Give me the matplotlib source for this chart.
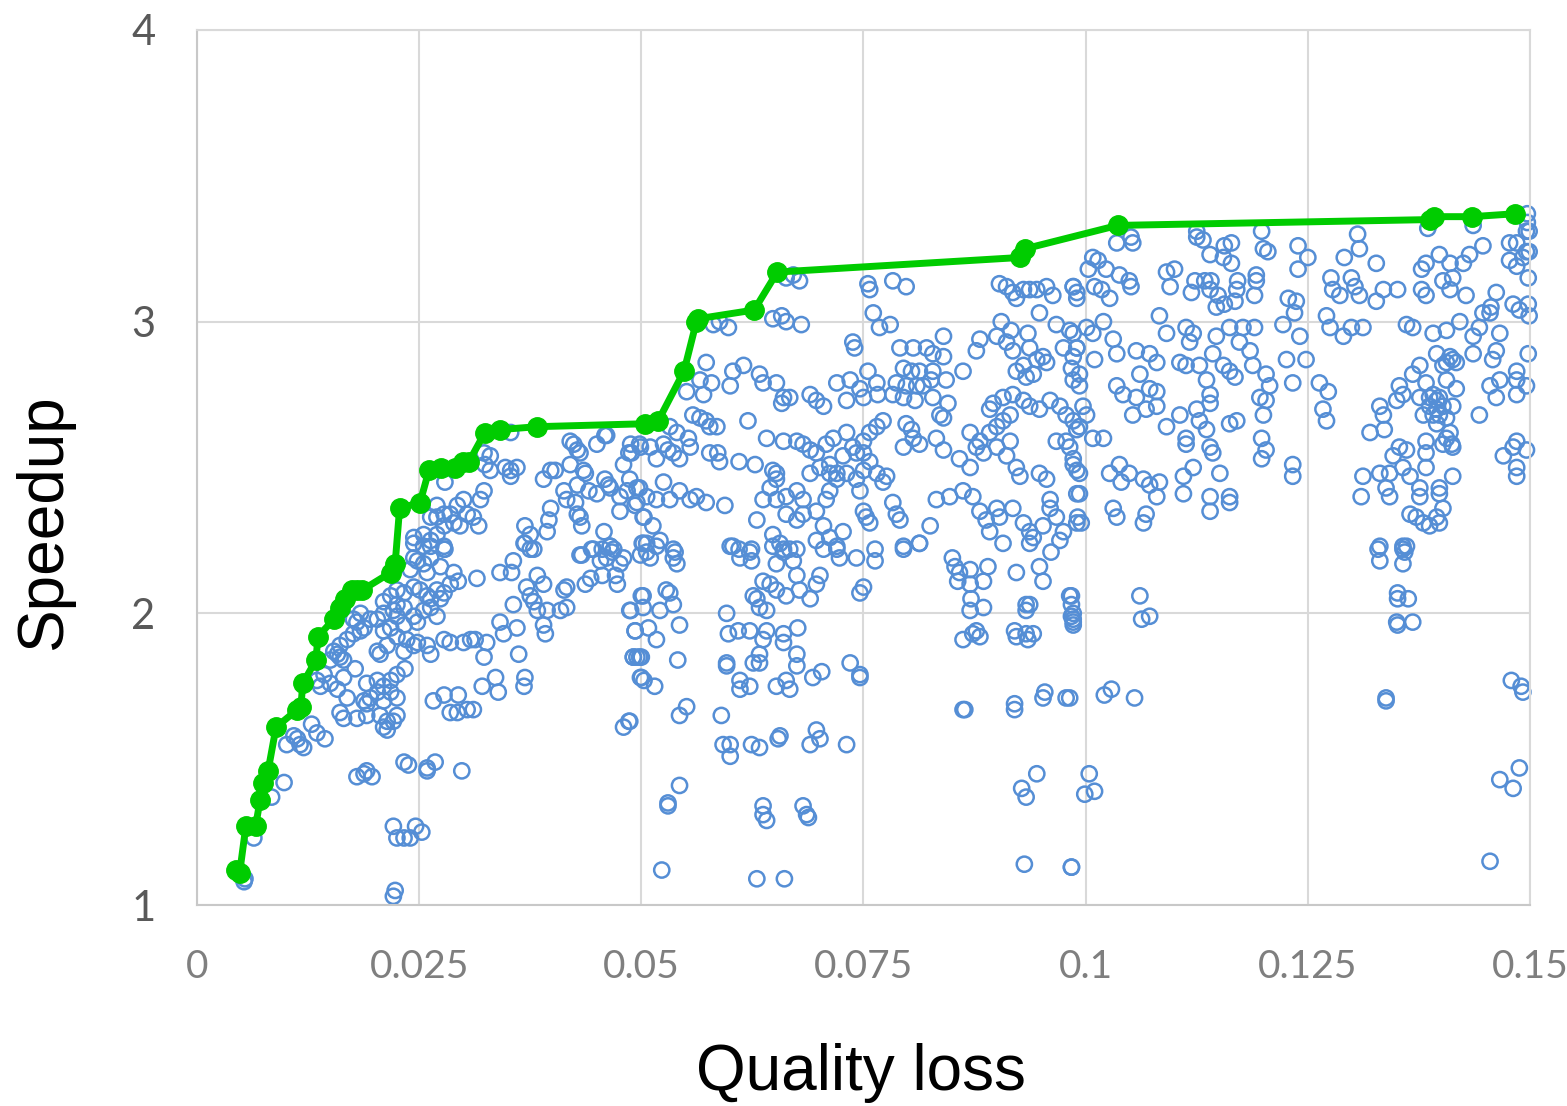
import numpy as np
import matplotlib
matplotlib.use("Agg")
import matplotlib.pyplot as plt

# Pareto frontier (green)
front_loss = [0.0044, 0.0048, 0.0055, 0.0066, 0.0071, 0.0074, 0.0080, 0.0089, 0.0113, 0.0117,
              0.0119, 0.0134, 0.0136, 0.0154, 0.0161, 0.0167, 0.0174, 0.0180, 0.0186, 0.0218,
              0.0223, 0.0228, 0.0251, 0.0261, 0.0275, 0.0290, 0.0299, 0.0306, 0.0324, 0.0341,
              0.0383, 0.0504, 0.0519, 0.0548, 0.0562, 0.0564, 0.0627, 0.0653, 0.0926, 0.0932,
              0.1036, 0.1388, 0.1392, 0.1435, 0.1483]
front_speedup = [1.12, 1.11, 1.27, 1.27, 1.36, 1.42, 1.46, 1.61, 1.67, 1.68,
                 1.76, 1.84, 1.92, 1.98, 2.02, 2.05, 2.08, 2.08, 2.08, 2.14,
                 2.17, 2.36, 2.38, 2.49, 2.50, 2.50, 2.52, 2.52, 2.62, 2.63,
                 2.64, 2.65, 2.66, 2.83, 3.00, 3.01, 3.04, 3.17, 3.22, 3.25,
                 3.33, 3.35, 3.36, 3.36, 3.37]

# all configurations, (quality loss, speedup), grouped by area of the plot
left_low = [
    (0.0244, 2.24), (0.0263, 2.23), (0.0278, 2.23), (0.0279, 2.22), (0.0263, 2.19), (0.0248, 2.18),
    (0.0255, 2.17), (0.0274, 2.16), (0.0240, 2.15), (0.0259, 2.14), (0.0289, 2.14), (0.0294, 2.11),
    (0.0315, 2.12), (0.0341, 2.14), (0.0354, 2.14), (0.0356, 2.18), (0.0369, 2.24), (0.0375, 2.22),
    (0.0433, 2.20), (0.0446, 2.22), (0.0456, 2.22), (0.0465, 2.23), (0.0467, 2.21), (0.0480, 2.19),
    (0.0476, 2.17), (0.0454, 2.18), (0.0461, 2.19), (0.0499, 2.20), (0.0443, 2.12), (0.0437, 2.10),
    (0.0456, 2.13), (0.0471, 2.13), (0.0473, 2.10), (0.0225, 2.08), (0.0233, 2.07), (0.0218, 2.06),
    (0.0210, 2.04), (0.0225, 2.03), (0.0233, 2.02), (0.0221, 2.01), (0.0210, 2.00), (0.0203, 1.98),
    (0.0225, 1.99), (0.0244, 2.09), (0.0251, 2.08), (0.0259, 2.06), (0.0263, 2.05), (0.0270, 2.08),
    (0.0278, 2.07), (0.0274, 2.05), (0.0285, 2.10), (0.0263, 2.02), (0.0270, 1.99), (0.0255, 2.01),
    (0.0244, 1.99), (0.0248, 1.97), (0.0233, 1.96), (0.0218, 1.95), (0.0210, 1.94), (0.0225, 1.92),
    (0.0236, 1.91), (0.0248, 1.90), (0.0259, 1.89), (0.0263, 1.86), (0.0244, 1.89), (0.0233, 1.87),
    (0.0214, 1.89), (0.0206, 1.86), (0.0203, 1.87), (0.0195, 1.98), (0.0188, 1.95), (0.0184, 1.94),
    (0.0176, 1.93), (0.0169, 1.91), (0.0161, 1.89), (0.0158, 1.86), (0.0150, 1.84), (0.0161, 1.85),
    (0.0165, 1.84), (0.0154, 1.87), (0.0176, 1.98), (0.0180, 1.97), (0.0184, 2.00), (0.0278, 1.91),
    (0.0285, 1.90), (0.0300, 1.90), (0.0308, 1.91), (0.0313, 1.91), (0.0326, 1.90), (0.0323, 1.85),
    (0.0341, 1.97), (0.0345, 1.93), (0.0360, 1.95), (0.0362, 1.86), (0.0356, 2.03), (0.0371, 2.09),
    (0.0375, 2.06), (0.0383, 2.13), (0.0390, 2.10), (0.0379, 2.04), (0.0383, 2.01), (0.0394, 2.01),
    (0.0390, 1.96), (0.0392, 1.93), (0.0413, 2.08), (0.0416, 2.09), (0.0416, 2.02), (0.0409, 2.01),
    (0.0488, 2.01), (0.0493, 1.94), (0.0491, 1.85), (0.0495, 1.85), (0.0500, 1.85), (0.0499, 1.78),
    (0.0503, 1.77), (0.0500, 2.06), (0.0143, 1.79), (0.0135, 1.77), (0.0139, 1.75), (0.0150, 1.76),
    (0.0158, 1.74), (0.0169, 1.71), (0.0165, 1.78), (0.0178, 1.81), (0.0191, 1.76), (0.0203, 1.77),
    (0.0210, 1.75), (0.0218, 1.77), (0.0225, 1.79), (0.0234, 1.81), (0.0188, 1.70), (0.0191, 1.69),
    (0.0195, 1.71), (0.0203, 1.73), (0.0210, 1.70), (0.0218, 1.73), (0.0225, 1.71), (0.0161, 1.66),
    (0.0165, 1.64), (0.0180, 1.64), (0.0191, 1.65), (0.0206, 1.65), (0.0214, 1.63), (0.0221, 1.63),
    (0.0225, 1.65), (0.0210, 1.61), (0.0214, 1.60), (0.0129, 1.62), (0.0135, 1.59), (0.0144, 1.57),
    (0.0109, 1.58), (0.0113, 1.57), (0.0101, 1.55), (0.0116, 1.55), (0.0120, 1.54), (0.0098, 1.42),
    (0.0084, 1.37), (0.0064, 1.23), (0.0054, 1.09), (0.0053, 1.08), (0.0311, 1.67), (0.0304, 1.67),
    (0.0293, 1.66), (0.0285, 1.66), (0.0266, 1.70), (0.0278, 1.72), (0.0294, 1.72), (0.0321, 1.75),
    (0.0336, 1.78), (0.0339, 1.73), (0.0369, 1.78), (0.0368, 1.75), (0.0486, 1.63), (0.0480, 1.61),
    (0.0180, 1.44), (0.0188, 1.45), (0.0191, 1.46), (0.0197, 1.44), (0.0233, 1.49), (0.0238, 1.48),
    (0.0259, 1.47), (0.0259, 1.46), (0.0268, 1.49), (0.0298, 1.46), (0.0221, 1.27), (0.0225, 1.23),
    (0.0233, 1.23), (0.0240, 1.23), (0.0246, 1.27), (0.0253, 1.25), (0.0223, 1.05), (0.0221, 1.03),
]

left_high = [
    (0.0353, 2.62), (0.0420, 2.59), (0.0424, 2.58), (0.0428, 2.56), (0.0431, 2.55), (0.0420, 2.51),
    (0.0435, 2.49), (0.0437, 2.48), (0.0450, 2.58), (0.0459, 2.61), (0.0461, 2.61), (0.0488, 2.58),
    (0.0486, 2.55), (0.0499, 2.57), (0.0480, 2.51), (0.0323, 2.55), (0.0330, 2.54), (0.0324, 2.51),
    (0.0330, 2.49), (0.0347, 2.50), (0.0353, 2.49), (0.0360, 2.50), (0.0353, 2.47), (0.0390, 2.46),
    (0.0398, 2.49), (0.0403, 2.49), (0.0413, 2.42), (0.0416, 2.39), (0.0428, 2.44), (0.0426, 2.38),
    (0.0441, 2.42), (0.0450, 2.41), (0.0459, 2.46), (0.0463, 2.44), (0.0465, 2.43), (0.0476, 2.40),
    (0.0484, 2.42), (0.0495, 2.43), (0.0493, 2.37), (0.0476, 2.35), (0.0398, 2.36), (0.0396, 2.32),
    (0.0394, 2.28), (0.0369, 2.30), (0.0375, 2.27), (0.0368, 2.24), (0.0379, 2.22), (0.0428, 2.34),
    (0.0431, 2.33), (0.0433, 2.30), (0.0458, 2.28), (0.0465, 2.23), (0.0469, 2.22), (0.0431, 2.20),
    (0.0444, 2.22), (0.0501, 2.24), (0.0503, 2.33), (0.0323, 2.42), (0.0319, 2.39), (0.0300, 2.39),
    (0.0293, 2.37), (0.0285, 2.34), (0.0278, 2.34), (0.0270, 2.33), (0.0263, 2.33), (0.0270, 2.37),
    (0.0304, 2.34), (0.0311, 2.33), (0.0317, 2.30), (0.0289, 2.31), (0.0296, 2.30), (0.0278, 2.30),
    (0.0244, 2.26), (0.0255, 2.27), (0.0263, 2.25), (0.0270, 2.27), (0.0278, 2.22), (0.0255, 2.23),
    (0.0244, 2.19), (0.0279, 2.45),
]

mid_high = [
    (0.0671, 3.16), (0.0678, 3.14), (0.0663, 3.15), (0.0755, 3.13), (0.0757, 3.11), (0.0783, 3.14),
    (0.0798, 3.12), (0.0761, 3.03), (0.0768, 2.98), (0.0780, 2.99), (0.0903, 3.13), (0.0911, 3.12),
    (0.0918, 3.10), (0.0922, 3.08), (0.0930, 3.11), (0.0937, 3.11), (0.0945, 3.11), (0.0956, 3.12),
    (0.0963, 3.09), (0.0948, 3.03), (0.0986, 3.12), (0.0990, 3.10), (0.0905, 3.00), (0.0916, 2.97),
    (0.0967, 2.99), (0.0935, 2.96), (0.0581, 2.99), (0.0588, 3.00), (0.0598, 2.98), (0.0648, 3.01),
    (0.0658, 3.02), (0.0663, 3.00), (0.0680, 2.99), (0.0738, 2.93), (0.0740, 2.91), (0.0840, 2.95),
    (0.0881, 2.94), (0.0877, 2.90), (0.0900, 2.95), (0.0911, 2.93), (0.0918, 2.90), (0.0937, 2.91),
    (0.0945, 2.87), (0.0952, 2.88), (0.0930, 2.85), (0.0922, 2.83), (0.0933, 2.81), (0.0941, 2.82),
    (0.0956, 2.86), (0.0986, 2.96), (0.0990, 2.91), (0.0975, 2.91), (0.0986, 2.88), (0.0791, 2.91),
    (0.0806, 2.91), (0.0821, 2.91), (0.0828, 2.89), (0.0840, 2.88), (0.0795, 2.84), (0.0804, 2.83),
    (0.0813, 2.83), (0.0828, 2.83), (0.0843, 2.80), (0.0826, 2.80), (0.0817, 2.78), (0.0810, 2.78),
    (0.0798, 2.78), (0.0787, 2.79), (0.0783, 2.75), (0.0795, 2.74), (0.0808, 2.73), (0.0828, 2.74),
    (0.0845, 2.72), (0.0836, 2.68), (0.0840, 2.67), (0.0862, 2.83), (0.0573, 2.86), (0.0566, 2.80),
    (0.0579, 2.79), (0.0570, 2.75), (0.0551, 2.76), (0.0600, 2.78), (0.0603, 2.83), (0.0615, 2.85),
    (0.0633, 2.82), (0.0637, 2.79), (0.0652, 2.79), (0.0660, 2.74), (0.0667, 2.74), (0.0658, 2.72),
    (0.0690, 2.75), (0.0697, 2.73), (0.0705, 2.71), (0.0720, 2.79), (0.0735, 2.80), (0.0746, 2.77),
    (0.0731, 2.73), (0.0750, 2.74), (0.0755, 2.83), (0.0765, 2.79), (0.0766, 2.75), (0.0558, 2.68),
    (0.0566, 2.67), (0.0573, 2.66), (0.0585, 2.64), (0.0577, 2.64), (0.0532, 2.64), (0.0540, 2.62),
    (0.0553, 2.60), (0.0555, 2.57), (0.0525, 2.58), (0.0530, 2.56), (0.0536, 2.55), (0.0543, 2.53),
    (0.0517, 2.53), (0.0510, 2.57), (0.0498, 2.58), (0.0489, 2.55), (0.0577, 2.55), (0.0586, 2.55),
    (0.0588, 2.52), (0.0610, 2.52), (0.0628, 2.51), (0.0620, 2.66), (0.0641, 2.60), (0.0660, 2.59),
    (0.0675, 2.59), (0.0682, 2.58), (0.0690, 2.56), (0.0697, 2.55), (0.0708, 2.58), (0.0716, 2.60),
    (0.0731, 2.62), (0.0738, 2.57), (0.0750, 2.59), (0.0757, 2.62), (0.0765, 2.64), (0.0772, 2.66),
    (0.0750, 2.55), (0.0757, 2.52), (0.0742, 2.55), (0.0727, 2.54), (0.0712, 2.51), (0.0701, 2.50),
    (0.0690, 2.48), (0.0712, 2.48), (0.0720, 2.46), (0.0798, 2.65), (0.0804, 2.63), (0.0806, 2.60),
    (0.0813, 2.58), (0.0795, 2.57), (0.0832, 2.60), (0.0840, 2.56), (0.0858, 2.53), (0.0870, 2.50),
    (0.0877, 2.57), (0.0881, 2.59), (0.0885, 2.55), (0.0892, 2.62), (0.0900, 2.64), (0.0907, 2.66),
    (0.0915, 2.68), (0.0892, 2.70), (0.0896, 2.72), (0.0907, 2.74), (0.0918, 2.75), (0.0930, 2.73),
    (0.0937, 2.71), (0.0948, 2.70), (0.0960, 2.73), (0.0971, 2.71), (0.0978, 2.68), (0.0986, 2.66),
    (0.0967, 2.59), (0.0978, 2.59), (0.0990, 2.63), (0.0900, 2.57), (0.0911, 2.54), (0.0922, 2.50),
    (0.0926, 2.47), (0.0915, 2.59), (0.0870, 2.62), (0.0652, 2.48), (0.0652, 2.46), (0.0648, 2.49),
    (0.0645, 2.43), (0.0637, 2.39), (0.0630, 2.32), (0.0652, 2.39), (0.0663, 2.40), (0.0675, 2.42),
    (0.0682, 2.39), (0.0663, 2.34), (0.0675, 2.32), (0.0682, 2.34), (0.0697, 2.35), (0.0708, 2.39),
    (0.0712, 2.42), (0.0720, 2.48), (0.0731, 2.48), (0.0742, 2.46), (0.0746, 2.42), (0.0750, 2.49),
    (0.0765, 2.48), (0.0776, 2.47), (0.0772, 2.45), (0.0648, 2.27), (0.0656, 2.24), (0.0660, 2.22),
    (0.0610, 2.22), (0.0600, 2.23), (0.0622, 2.21), (0.0705, 2.30), (0.0712, 2.26), (0.0720, 2.23),
    (0.0727, 2.28), (0.0697, 2.25), (0.0750, 2.35), (0.0753, 2.33), (0.0757, 2.31), (0.0783, 2.38),
    (0.0787, 2.34), (0.0791, 2.32), (0.0795, 2.23), (0.0813, 2.24), (0.0825, 2.30), (0.0832, 2.39),
    (0.0847, 2.40), (0.0862, 2.42), (0.0873, 2.40), (0.0881, 2.35), (0.0888, 2.32), (0.0892, 2.28),
    (0.0900, 2.36), (0.0903, 2.33), (0.0918, 2.36), (0.0930, 2.31), (0.0937, 2.28), (0.0941, 2.26),
    (0.0952, 2.30), (0.0960, 2.36), (0.0967, 2.33), (0.0975, 2.28), (0.0990, 2.31), (0.0948, 2.48),
    (0.0956, 2.46), (0.0960, 2.39), (0.0986, 2.51), (0.0990, 2.49), (0.0990, 2.41), (0.0487, 2.46),
    (0.0498, 2.43), (0.0506, 2.40), (0.0517, 2.39), (0.0525, 2.45), (0.0532, 2.39), (0.0543, 2.42),
    (0.0555, 2.39), (0.0562, 2.40), (0.0573, 2.38), (0.0594, 2.37), (0.0502, 2.33), (0.0513, 2.30),
    (0.0521, 2.25), (0.0506, 2.24), (0.0536, 2.22), (0.0495, 2.38),
]

mid_low = [
    (0.0502, 2.24), (0.0510, 2.19), (0.0506, 2.21), (0.0517, 2.23), (0.0538, 2.21), (0.0540, 2.17),
    (0.0536, 2.19), (0.0603, 2.23), (0.0611, 2.19), (0.0624, 2.22), (0.0624, 2.18), (0.0648, 2.23),
    (0.0660, 2.21), (0.0667, 2.22), (0.0652, 2.17), (0.0671, 2.18), (0.0675, 2.22), (0.0637, 2.11),
    (0.0645, 2.10), (0.0652, 2.08), (0.0630, 2.05), (0.0633, 2.02), (0.0641, 2.01), (0.0626, 2.06),
    (0.0663, 2.06), (0.0675, 2.13), (0.0678, 2.08), (0.0690, 2.05), (0.0697, 2.10), (0.0701, 2.13),
    (0.0705, 2.22), (0.0720, 2.22), (0.0723, 2.19), (0.0742, 2.19), (0.0746, 2.07), (0.0750, 2.09),
    (0.0763, 2.22), (0.0763, 2.18), (0.0795, 2.22), (0.0813, 2.24), (0.0850, 2.19), (0.0853, 2.16),
    (0.0858, 2.14), (0.0870, 2.15), (0.0885, 2.11), (0.0890, 2.16), (0.0870, 2.10), (0.0856, 2.11),
    (0.0871, 2.05), (0.0870, 2.01), (0.0885, 2.02), (0.0907, 2.24), (0.0922, 2.14), (0.0948, 2.16),
    (0.0952, 2.11), (0.0937, 2.24), (0.0961, 2.21), (0.0971, 2.25), (0.0984, 2.06), (0.0984, 1.99),
    (0.0986, 1.97), (0.0933, 2.03), (0.0933, 2.01), (0.0937, 2.03), (0.0502, 2.06), (0.0502, 2.02),
    (0.0528, 2.08), (0.0532, 2.07), (0.0521, 2.01), (0.0536, 2.03), (0.0487, 2.01), (0.0596, 2.00),
    (0.0543, 1.96), (0.0517, 1.91), (0.0508, 1.95), (0.0493, 1.94), (0.0598, 1.93), (0.0609, 1.94),
    (0.0622, 1.94), (0.0641, 1.94), (0.0637, 1.91), (0.0660, 1.93), (0.0660, 1.90), (0.0676, 1.95),
    (0.0675, 1.86), (0.0675, 1.82), (0.0862, 1.91), (0.0873, 1.93), (0.0881, 1.92), (0.0877, 1.94),
    (0.0920, 1.94), (0.0922, 1.92), (0.0933, 1.93), (0.0941, 1.93), (0.0935, 1.91), (0.0491, 1.85),
    (0.0498, 1.85), (0.0541, 1.84), (0.0596, 1.83), (0.0596, 1.82), (0.0626, 1.83), (0.0633, 1.83),
    (0.0633, 1.86), (0.0500, 1.78), (0.0515, 1.75), (0.0611, 1.77), (0.0611, 1.74), (0.0622, 1.75),
    (0.0652, 1.75), (0.0663, 1.77), (0.0667, 1.74), (0.0693, 1.78), (0.0703, 1.80), (0.0735, 1.83),
    (0.0746, 1.79), (0.0746, 1.78), (0.0487, 1.63), (0.0551, 1.68), (0.0543, 1.65), (0.0590, 1.65),
    (0.0864, 1.67), (0.0862, 1.67), (0.0920, 1.69), (0.0920, 1.67), (0.0954, 1.73), (0.0952, 1.71),
    (0.0978, 1.71), (0.0592, 1.55), (0.0600, 1.55), (0.0600, 1.51), (0.0624, 1.55), (0.0633, 1.54),
    (0.0654, 1.57), (0.0656, 1.58), (0.0690, 1.55), (0.0697, 1.60), (0.0701, 1.57), (0.0731, 1.55),
    (0.0543, 1.41), (0.0530, 1.35), (0.0530, 1.34), (0.0637, 1.34), (0.0637, 1.31), (0.0641, 1.29),
    (0.0682, 1.34), (0.0686, 1.31), (0.0688, 1.30), (0.0928, 1.40), (0.0933, 1.37), (0.0945, 1.45),
    (0.0523, 1.12), (0.0630, 1.09), (0.0661, 1.09), (0.0931, 1.14), (0.0984, 1.13),
]

right_high = [
    (0.1035, 3.27), (0.1051, 3.29), (0.1053, 3.27), (0.1125, 3.31), (0.1125, 3.29), (0.1132, 3.28),
    (0.1140, 3.23), (0.1156, 3.26), (0.1164, 3.27), (0.1155, 3.22), (0.1164, 3.20), (0.1198, 3.31),
    (0.1200, 3.25), (0.1205, 3.24), (0.1239, 3.26), (0.1250, 3.22), (0.1239, 3.18), (0.1306, 3.30),
    (0.1308, 3.25), (0.1291, 3.22), (0.1327, 3.20), (0.1385, 3.32), (0.1436, 3.33), (0.1497, 3.37),
    (0.1497, 3.34), (0.1496, 3.31), (0.1499, 3.31), (0.1003, 3.18), (0.1008, 3.22), (0.1014, 3.21),
    (0.1023, 3.18), (0.1038, 3.16), (0.1049, 3.14), (0.1051, 3.12), (0.1010, 3.12), (0.1018, 3.11),
    (0.1027, 3.08), (0.0986, 3.12), (0.0990, 3.08), (0.1091, 3.17), (0.1100, 3.18), (0.1095, 3.12),
    (0.1119, 3.10), (0.1123, 3.14), (0.1134, 3.14), (0.1141, 3.14), (0.1140, 3.11), (0.1149, 3.09),
    (0.1171, 3.14), (0.1170, 3.11), (0.1156, 3.06), (0.1147, 3.05), (0.1168, 3.07), (0.1192, 3.16),
    (0.1192, 3.14), (0.1190, 3.09), (0.1228, 3.08), (0.1237, 3.07), (0.1235, 3.03), (0.1276, 3.15),
    (0.1278, 3.11), (0.1286, 3.09), (0.1299, 3.15), (0.1303, 3.12), (0.1308, 3.09), (0.1335, 3.11),
    (0.1351, 3.11), (0.1327, 3.07), (0.1378, 3.18), (0.1383, 3.20), (0.1398, 3.23), (0.1410, 3.20),
    (0.1425, 3.20), (0.1432, 3.23), (0.1447, 3.26), (0.1378, 3.11), (0.1383, 3.09), (0.1402, 3.14),
    (0.1413, 3.15), (0.1410, 3.11), (0.1428, 3.09), (0.1462, 3.10), (0.1456, 3.05), (0.1447, 3.03),
    (0.1477, 3.27), (0.1485, 3.27), (0.1496, 3.24), (0.1477, 3.21), (0.1485, 3.19), (0.1498, 3.15),
    (0.1492, 3.22), (0.1499, 3.24), (0.1481, 3.06), (0.1488, 3.04), (0.1498, 3.06), (0.1499, 3.02),
    (0.0982, 2.97), (0.0990, 2.91), (0.1001, 2.98), (0.1008, 2.96), (0.1020, 3.00), (0.1031, 2.94),
    (0.1035, 2.89), (0.1010, 2.87), (0.0984, 2.84), (0.0993, 2.82), (0.0993, 2.78), (0.0986, 2.80),
    (0.1083, 3.02), (0.1091, 2.96), (0.1113, 2.98), (0.1121, 2.96), (0.1117, 2.93), (0.1147, 2.95),
    (0.1162, 2.98), (0.1177, 2.98), (0.1190, 2.98), (0.1173, 2.93), (0.1185, 2.90), (0.1143, 2.89),
    (0.1155, 2.85), (0.1106, 2.86), (0.1113, 2.85), (0.1128, 2.85), (0.1136, 2.80), (0.1162, 2.83),
    (0.1168, 2.81), (0.1188, 2.85), (0.1203, 2.82), (0.1207, 2.78), (0.1196, 2.74), (0.1203, 2.73),
    (0.1222, 2.99), (0.1226, 2.87), (0.1241, 2.95), (0.1248, 2.87), (0.1271, 3.02), (0.1275, 2.98),
    (0.1290, 2.95), (0.1299, 2.98), (0.1312, 2.98), (0.1263, 2.79), (0.1273, 2.76), (0.1233, 2.79),
    (0.1057, 2.90), (0.1072, 2.89), (0.1080, 2.86), (0.1061, 2.82), (0.1035, 2.78), (0.1042, 2.75),
    (0.1057, 2.74), (0.1072, 2.77), (0.1080, 2.76), (0.1053, 2.68), (0.1068, 2.70), (0.1080, 2.71),
    (0.1091, 2.64), (0.1106, 2.68), (0.1125, 2.70), (0.1140, 2.72), (0.1140, 2.75), (0.1128, 2.66),
    (0.1136, 2.63), (0.1162, 2.65), (0.1170, 2.66), (0.1140, 2.57), (0.1143, 2.55), (0.1113, 2.60),
    (0.1113, 2.58), (0.1200, 2.68), (0.1198, 2.60), (0.1203, 2.56), (0.1198, 2.53), (0.1233, 2.51),
    (0.1233, 2.47), (0.1267, 2.70), (0.1271, 2.66), (0.0997, 2.71), (0.1001, 2.68), (0.0993, 2.64),
    (0.1008, 2.60), (0.1020, 2.60), (0.0982, 2.57), (0.0986, 2.53), (0.0993, 2.48), (0.1027, 2.48),
    (0.1038, 2.51), (0.1049, 2.48), (0.1040, 2.45), (0.1065, 2.46), (0.1072, 2.44), (0.1083, 2.45),
    (0.1080, 2.40), (0.1068, 2.34), (0.1065, 2.31), (0.1035, 2.33), (0.1031, 2.36), (0.0993, 2.41),
    (0.0991, 2.33), (0.0995, 2.31), (0.1110, 2.47), (0.1110, 2.41), (0.1121, 2.50), (0.1151, 2.48),
    (0.1140, 2.40), (0.1140, 2.35), (0.1162, 2.40), (0.1162, 2.38), (0.1361, 2.99), (0.1368, 2.98),
    (0.1391, 2.96), (0.1406, 2.97), (0.1421, 3.00), (0.1436, 2.95), (0.1443, 2.98), (0.1395, 2.89),
    (0.1402, 2.85), (0.1413, 2.87), (0.1406, 2.80), (0.1383, 2.79), (0.1376, 2.74), (0.1387, 2.71),
    (0.1398, 2.68), (0.1395, 2.65), (0.1380, 2.68), (0.1357, 2.75), (0.1353, 2.78), (0.1350, 2.73),
    (0.1368, 2.82), (0.1376, 2.85), (0.1413, 2.71), (0.1417, 2.77), (0.1410, 2.62), (0.1402, 2.58),
    (0.1413, 2.57), (0.1383, 2.59), (0.1383, 2.55), (0.1436, 2.89), (0.1443, 2.68), (0.1455, 3.03),
    (0.1466, 2.96), (0.1462, 2.90), (0.1458, 2.87), (0.1466, 2.80), (0.1455, 2.78), (0.1462, 2.74),
    (0.1485, 2.83), (0.1485, 2.80), (0.1496, 2.78), (0.1498, 2.89), (0.1485, 2.75), (0.1331, 2.71),
    (0.1335, 2.68), (0.1336, 2.63), (0.1320, 2.62), (0.1346, 2.54), (0.1353, 2.57), (0.1361, 2.56),
    (0.1357, 2.50), (0.1365, 2.47), (0.1342, 2.48), (0.1331, 2.48), (0.1312, 2.47), (0.1310, 2.40),
    (0.1338, 2.43), (0.1342, 2.40), (0.1376, 2.43), (0.1376, 2.40), (0.1398, 2.41), (0.1398, 2.43),
    (0.1413, 2.47), (0.1383, 2.50), (0.1481, 2.57), (0.1485, 2.59), (0.1496, 2.56), (0.1470, 2.54),
    (0.1485, 2.50), (0.1485, 2.47), (0.1365, 2.34), (0.1372, 2.33), (0.1380, 2.31), (0.1387, 2.30),
    (0.1395, 2.33), (0.1398, 2.31), (0.1402, 2.36), (0.1331, 2.23), (0.1357, 2.22), (0.1361, 2.23),
    (0.1391, 2.75), (0.1395, 2.73), (0.1398, 2.74), (0.1402, 2.71), (0.1391, 2.68), (0.1406, 2.67),
    (0.1395, 2.70), (0.1387, 2.74), (0.1410, 2.88), (0.1406, 2.86), (0.1417, 2.86), (0.1406, 2.60),
    (0.1412, 2.58),
]

right_low = [
    (0.0982, 2.06), (0.0984, 2.03), (0.0986, 2.00), (0.0986, 1.98), (0.0986, 1.96), (0.1061, 2.06),
    (0.1063, 1.98), (0.1072, 1.99), (0.0982, 1.71), (0.1021, 1.72), (0.1029, 1.74), (0.1055, 1.71),
    (0.1004, 1.45), (0.0999, 1.38), (0.1010, 1.39), (0.0984, 1.13), (0.1329, 2.22), (0.1331, 2.18),
    (0.1357, 2.23), (0.1359, 2.21), (0.1357, 2.17), (0.1351, 2.07), (0.1351, 2.05), (0.1363, 2.05),
    (0.1350, 1.97), (0.1351, 1.96), (0.1368, 1.97), (0.1338, 1.71), (0.1338, 1.70), (0.1479, 1.77),
    (0.1490, 1.75), (0.1492, 1.73), (0.1466, 1.43), (0.1481, 1.40), (0.1488, 1.47), (0.1455, 1.15),
]

x_ticks = [0, 0.025, 0.05, 0.075, 0.1, 0.125, 0.15]
x_ticklabels = ["0", "0.025", "0.05", "0.075", "0.1", "0.125", "0.15"]
y_ticks = [1, 2, 3, 4]
y_ticklabels = ["1", "2", "3", "4"]

pts = np.array(left_low + left_high + mid_high + mid_low + right_high + right_low)

fig = plt.figure(figsize=(15.67, 11.06), dpi=100)
ax = fig.add_axes([0.1257, 0.1817, 0.8507, 0.7912])

ax.scatter(pts[:, 0], pts[:, 1], s=120, facecolors="none", edgecolors="#558ED5",
           linewidths=1.8, zorder=2, clip_on=False)
ax.plot(front_loss, front_speedup, color="#00CC00", lw=5, marker="o", ms=14,
        mec="#00CC00", mfc="#00CC00", zorder=3, clip_on=False)

ax.set_xlim(0, 0.15)
ax.set_ylim(1, 4)
ax.set_xticks(x_ticks)
ax.set_xticklabels(x_ticklabels, fontfamily="Lato", fontsize=28, color="#7F7F7F")
ax.set_yticks(y_ticks)
ax.set_yticklabels(y_ticklabels, fontfamily="Lato", fontsize=30, color="#595959")
ax.tick_params(axis="both", length=0)
ax.tick_params(axis="x", pad=32)
ax.tick_params(axis="y", pad=30)

ax.grid(True, color="#D9D9D9", lw=1.5, zorder=0)
ax.set_axisbelow(True)
for side in ["top", "right"]:
    ax.spines[side].set_color("#D9D9D9")
    ax.spines[side].set_linewidth(1.5)
for side in ["left", "bottom"]:
    ax.spines[side].set_color("#C8C8C8")
    ax.spines[side].set_linewidth(1.5)

fig.text(0.5495, 0.0298, "Quality loss", fontfamily="Liberation Sans", fontsize=46,
         ha="center", va="center")
fig.text(0.028, 0.528, "Speedup", fontfamily="Liberation Sans", fontsize=46,
         rotation=90, ha="center", va="center")

fig.savefig("out.png", dpi=100)
